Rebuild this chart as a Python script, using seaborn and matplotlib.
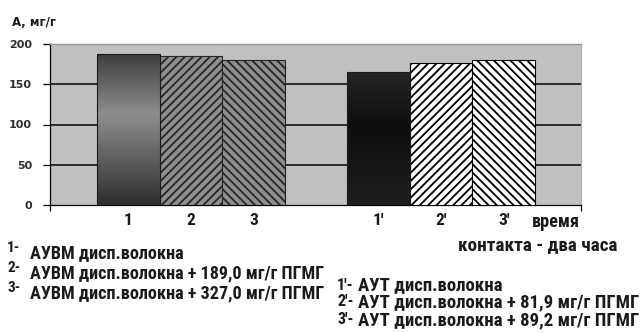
import numpy as np
import pandas as pd
import matplotlib
matplotlib.use("Agg")
import matplotlib.pyplot as plt
import seaborn as sns
from matplotlib import font_manager
from matplotlib.colors import LinearSegmentedColormap

# --- data -----------------------------------------------------------------
bar_labels = ["1", "2", "3", "1'", "2'", "3'"]
bar_pos = [1, 2, 3, 5, 6, 7]
adsorption = [187, 185, 180, 165, 176, 180]   # А, мг/г
y_ticks = [0, 50, 100, 150, 200]

legend_left_keys = ["1-", "2-", "3-"]
legend_left = ["АУВМ дисп.волокна",
               "АУВМ дисп.волокна + 189,0 мг/г ПГМГ",
               "АУВМ дисп.волокна + 327,0 мг/г ПГМГ"]
legend_right_keys = ["1'-", "2'-", "3'-"]
legend_right = ["АУТ дисп.волокна",
                "АУТ дисп.волокна + 81,9 мг/г ПГМГ",
                "АУТ дисп.волокна + 89,2 мг/г ПГМГ"]
y_title = "А, мг/г"
x_note = ["время", "контакта - два часа"]

# --- look ----------------------------------------------------------------
W, H = 640, 333
sns.set_theme(style="white")

installed = {f.name for f in font_manager.fontManager.ttflist}
narrow_pick = next((n for n in ["Liberation Sans Narrow", "Roboto Condensed",
                                "Arial Narrow", "Roboto", "Liberation Sans"]
                    if n in installed), "DejaVu Sans")
NARROW = [narrow_pick, "DejaVu Sans"]
ROUND = ["DejaVu Sans"]
plt.rcParams["font.family"] = NARROW
plt.rcParams["hatch.linewidth"] = 1.3
INK = "#1a1a1a"

bar_style = {
    "1":  dict(grad=["#2e2e2e", "#8e8e8e", "#3e3e3e"]),
    "2":  dict(face="#8e8e8e", edge="#262626", hatch="////"),
    "3":  dict(face="#8e8e8e", edge="#262626", hatch="\\\\\\\\"),
    "1'": dict(grad=["#1e1e1e", "#0e0e0e", "#262626"]),
    "2'": dict(face="#ffffff", edge="#000000", hatch="////"),
    "3'": dict(face="#ffffff", edge="#000000", hatch="\\\\\\\\"),
}


def fx(px):
    return px / W


def fy(py):
    return 1 - py / H


fig = plt.figure(figsize=(W / 100, H / 100), dpi=100)
fig.patch.set_facecolor("white")
ax = fig.add_axes([fx(50), fy(205), (581 - 50) / W, (205 - 44) / H])
ax.set_facecolor("#c0c0c0")

df = pd.DataFrame({"pos": bar_pos, "value": adsorption, "label": bar_labels})
sns.barplot(data=df, x="pos", y="value", native_scale=True, width=1.0,
            errorbar=None, color="#888888", ax=ax, zorder=3)

# per-bar fills: gradients for plain bars, diagonal stripes for the others
for p in list(ax.patches):
    xc = p.get_x() + p.get_width() / 2
    lab = bar_labels[bar_pos.index(int(round(xc)))]
    st = bar_style[lab]
    p.set_linewidth(0.8)
    if "grad" in st:
        cmap = LinearSegmentedColormap.from_list(
            "bar_" + lab, list(zip([0.0, 0.6, 1.0], st["grad"])))
        grad = np.linspace(0, 1, 256).reshape(-1, 1)
        im = ax.imshow(grad, extent=[p.get_x(), p.get_x() + p.get_width(), 0, p.get_height()],
                       origin="lower", aspect="auto", cmap=cmap, zorder=3,
                       interpolation="bilinear")
        im.set_clip_path(p)
        p.set_facecolor("none")
        p.set_edgecolor("#1a1a1a")
        p.set_zorder(3.5)
    else:
        p.set_facecolor(st["face"])
        p.set_edgecolor(st["edge"])
        p.set_hatch(st["hatch"])

ax.set_xlim(-0.25, 8.235)
ax.set_ylim(0, 200)
ax.set_xlabel("")
ax.set_ylabel("")

# axes, grid, ticks
ax.set_yticks(y_ticks)
ax.set_yticklabels([str(v) for v in y_ticks], family=ROUND, fontweight="bold",
                   fontsize=8, color="#2e2e2e")
ax.set_axisbelow(True)
ax.yaxis.grid(True, color="#2a2a2a", linewidth=1.4)
gl = ax.get_ygridlines()
gl[0].set_visible(False)
gl[-1].set_visible(False)
ax.xaxis.grid(False)

for side in ("left", "bottom"):
    ax.spines[side].set_color("#000000")
    ax.spines[side].set_linewidth(0.9)
ax.spines["top"].set_color("#969696")
ax.spines["top"].set_linewidth(1.0)
ax.spines["right"].set_color("#aaaaaa")
ax.spines["right"].set_linewidth(0.8)

ax.tick_params(axis="y", left=True, direction="out", length=5, width=0.9,
               color="#000000", pad=8)

ax.set_xticks(bar_pos)
ax.set_xticklabels(bar_labels, family=NARROW, fontweight="bold", fontsize=12.5,
                   color=INK)
ax.tick_params(axis="x", which="major", bottom=False, length=0, pad=6)
ax.set_xticks([-0.25, 8.235], minor=True)
ax.tick_params(axis="x", which="minor", bottom=True, direction="out",
               length=4, width=0.9, color="#000000")

# titles and notes
fig.text(fx(12), fy(23), y_title, family=ROUND, weight="bold", fontsize=8.5,
         color=INK, va="center", ha="left")
note1 = fig.text(fx(532), fy(222), x_note[0], family=NARROW, weight="bold",
                 fontsize=13, color=INK, va="center", ha="left")
note2 = fig.text(fx(458), fy(245), x_note[1], family=NARROW, weight="bold",
                 fontsize=11, color=INK, va="center", ha="left")

left_rows = [253, 273, 293]
right_rows = [285, 302, 320]
left_txt, right_txt = [], []
for key, txt, yy in zip(legend_left_keys, legend_left, left_rows):
    fig.text(fx(7), fy(yy - 5), key, family=NARROW, weight="bold", fontsize=11,
             color=INK, va="center", ha="left")
    left_txt.append(fig.text(fx(30), fy(yy), txt, family=NARROW, weight="bold",
                             fontsize=11, color=INK, va="center", ha="left"))
for key, txt, yy in zip(legend_right_keys, legend_right, right_rows):
    fig.text(fx(337), fy(yy), key, family=NARROW, weight="bold", fontsize=11.5,
             color=INK, va="center", ha="left")
    right_txt.append(fig.text(fx(358), fy(yy), txt, family=NARROW, weight="bold",
                              fontsize=11, color=INK, va="center", ha="left"))


def fit_width(texts, target_px):
    fig.canvas.draw()
    r = fig.canvas.get_renderer()
    w = max(t.get_window_extent(r).width for t in texts)
    s = target_px / w
    for t in texts:
        t.set_fontsize(t.get_fontsize() * s)


fit_width(left_txt, 293)
fit_width(right_txt, 280)
fit_width([note2], 159)
fit_width([note1], 48)

fig.savefig("out.png", dpi=100, facecolor="white")
